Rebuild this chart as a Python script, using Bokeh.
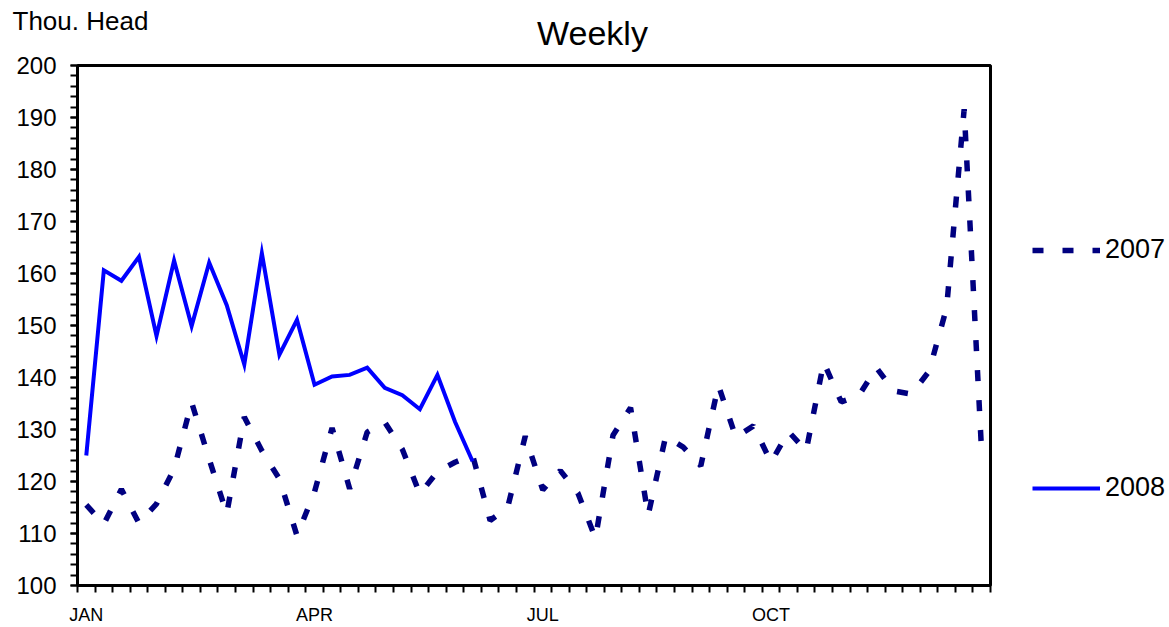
from bokeh.plotting import figure
from bokeh.models import FixedTicker, Legend, LegendItem, Label, Range1d
from bokeh.layouts import column, row
from bokeh.embed import file_html
from bokeh.resources import INLINE

# ---- data (thousand head, weekly) ----
imports_2007 = [115.5, 111.8, 118.5, 112.0, 115.7, 122.4, 135.2, 124.3, 113.8, 132.4,
                125.9, 120.5, 109.6, 118.0, 130.3, 118.6, 129.5, 131.4, 126.2, 117.6,
                121.9, 123.7, 125.1, 112.5, 115.0, 128.7, 118.4, 122.1, 117.8, 109.1,
                128.9, 134.2, 113.5, 128.7, 126.6, 123.0, 138.5, 128.5, 130.7, 123.7,
                129.6, 125.9, 142.9, 135.3, 136.5, 141.9, 137.4, 136.8, 141.2, 153.4,
                191.6, 125.3]
imports_2008 = [125.0, 160.6, 158.6, 163.2, 148.0, 162.5, 149.9, 162.1, 153.9, 142.5,
                163.9, 144.4, 151.1, 138.6, 140.2, 140.5, 141.9, 138.0, 136.6, 133.9,
                140.5, 131.5, 123.9]
month_labels = ["JAN", "APR", "JUL", "OCT"]
month_weeks = [0, 13, 26, 39]
series_names = ["2007", "2008"]
y_unit = "Thou. Head"
subtitle = "Weekly"

x07 = [w + 0.5 for w in range(len(imports_2007))]
x08 = [w + 0.5 for w in range(len(imports_2008))]

FONT = "Liberation Sans"
C07 = "#000080"
C08 = "#0000FF"
STYLE07 = dict(line_color=C07, line_width=5.5, line_dash="11 19", line_cap="butt")
STYLE08 = dict(line_color=C08, line_width=4, line_join="miter")

TOP_H = 52

# ---------------- top strip with the texts ----------------
top = figure(width=1169, height=TOP_H, x_range=Range1d(0, 1169), y_range=Range1d(0, TOP_H),
             output_backend="svg", toolbar_location=None, title=None,
             x_axis_type=None, y_axis_type=None, min_border=0)
top.outline_line_color = None
top.background_fill_color = "white"
top.border_fill_color = "white"
top.add_layout(Label(x=12, y=31.5, text=y_unit, text_font=FONT, text_font_size="26px",
                     text_color="black", text_align="left", text_baseline="alphabetic"))
top.add_layout(Label(x=592, y=19.5, text=subtitle, text_font=FONT, text_font_size="34px",
                     text_color="black", text_align="center", text_baseline="alphabetic"))

# ---------------- main chart ----------------
p = figure(width=992, height=627 - TOP_H, x_range=Range1d(0, 52), y_range=Range1d(100, 200),
           output_backend="svg", toolbar_location=None, title=None,
           min_border_left=77, min_border_right=2, min_border_top=65 - TOP_H,
           min_border_bottom=40)
p.background_fill_color = "white"
p.border_fill_color = "white"
p.xgrid.visible = False
p.ygrid.visible = False
p.outline_line_color = "black"
p.outline_line_width = 3
p.outline_line_alpha = 1.0

r07 = p.line(x07, imports_2007, **STYLE07)
r08 = p.line(x08, imports_2008, **STYLE08)

ya = p.yaxis[0]
ya.ticker = FixedTicker(ticks=list(range(100, 201, 10)), minor_ticks=list(range(100, 201, 2)))
ya.major_tick_out = 7
ya.major_tick_in = 0
ya.minor_tick_out = 7
ya.minor_tick_in = 0
ya.major_tick_line_width = 2
ya.minor_tick_line_width = 2
ya.major_tick_line_color = "black"
ya.minor_tick_line_color = "black"
ya.axis_line_width = 3
ya.axis_line_color = "black"
ya.major_label_text_font = FONT
ya.major_label_text_font_size = "24px"
ya.major_label_text_color = "black"
ya.major_label_standoff = 14

xa = p.xaxis[0]
label_pos = [w + 0.5 for w in month_weeks]
xa.ticker = FixedTicker(ticks=label_pos, minor_ticks=list(range(0, 53)))
xa.major_label_overrides = {pos: lab for pos, lab in zip(label_pos, month_labels)}
xa.major_tick_out = 0
xa.major_tick_in = 0
xa.minor_tick_out = 7
xa.minor_tick_in = 0
xa.minor_tick_line_width = 2
xa.minor_tick_line_color = "black"
xa.axis_line_width = 3
xa.axis_line_color = "black"
xa.major_label_text_font = FONT
xa.major_label_text_font_size = "18px"
xa.major_label_text_color = "black"
xa.major_label_standoff = 12

# ---------------- legend strip at the right ----------------
# (its frame is aligned with the main chart frame by the row layout)
lg = figure(width=177, height=627 - TOP_H, x_range=Range1d(-2, -1), y_range=Range1d(-2, -1),
            output_backend="svg", toolbar_location=None, title=None,
            x_axis_type=None, y_axis_type=None, min_border=0)
lg.outline_line_color = None
lg.background_fill_color = "white"
lg.border_fill_color = "white"
# key renderers: same series, but the ranges keep them out of view
k07 = lg.line(x07, imports_2007, **STYLE07)
k08 = lg.line(x08, imports_2008, **STYLE08)
leg = Legend(items=[LegendItem(label=series_names[0], renderers=[k07]),
                    LegendItem(label=series_names[1], renderers=[k08])],
             location=(40, 82), orientation="vertical",
             label_text_font=FONT, label_text_font_size="27px", label_text_color="black",
             glyph_width=68, glyph_height=30, label_height=30, label_standoff=5,
             padding=0, margin=0, spacing=207, border_line_alpha=0, background_fill_alpha=0)
lg.add_layout(leg)

layout = column(top, row(p, lg, spacing=0), spacing=0)
open("out.html", "w").write(file_html(layout, INLINE))
